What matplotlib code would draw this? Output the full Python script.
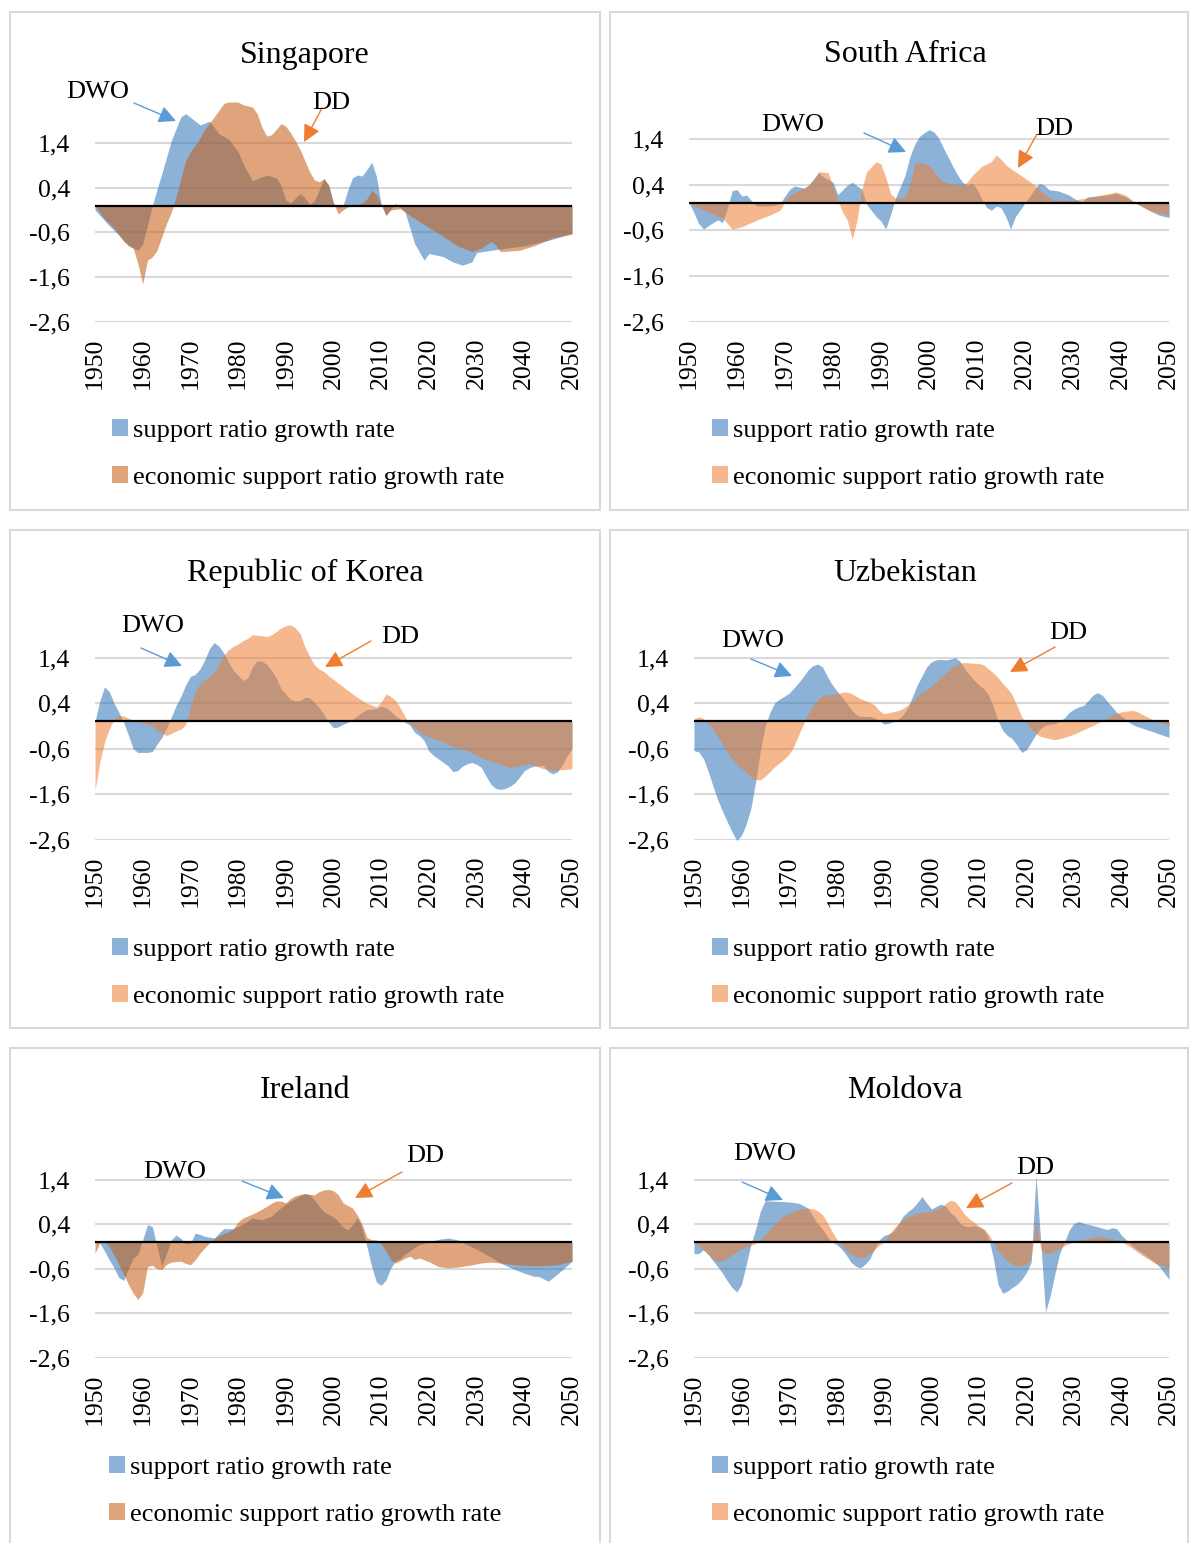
import numpy as np
import matplotlib.pyplot as plt
from matplotlib.patches import Patch, Rectangle

plt.rcParams['font.family'] = ['Liberation Serif', 'DejaVu Serif']

W, H = 1189, 1543

# ---- data (year, growth rate) ----
sg_sr_years = [1950, 1953, 1955, 1957, 1959, 1960, 1961, 1962, 1964, 1966, 1968, 1969, 1970, 1972, 1974,
               1976, 1978, 1980, 1981, 1983, 1984, 1986, 1988, 1989, 1990, 1991, 1993, 1994, 1995, 1996,
               1998, 1999, 2000, 2001, 2002, 2003, 2004, 2005, 2006, 2007, 2008, 2009, 2010, 2011, 2013,
               2015, 2017, 2019, 2020, 2023, 2025, 2027, 2029, 2030, 2035, 2040, 2045, 2050]
sg_sr = [-0.1, -0.45, -0.66, -0.9, -1.0, -0.85, -0.45, 0.0, 0.71, 1.45, 1.98, 2.05, 1.97, 1.8, 1.88,
         1.6, 1.48, 1.2, 0.94, 0.55, 0.6, 0.68, 0.62, 0.45, 0.12, 0.06, 0.27, 0.17, 0.03, 0.1,
         0.6, 0.45, 0.05, -0.05, 0.0, 0.35, 0.62, 0.68, 0.66, 0.8, 0.97, 0.65, 0.02, -0.22, 0.05,
         -0.14, -0.85, -1.22, -1.07, -1.14, -1.26, -1.33, -1.26, -1.05, -0.97, -0.9, -0.78, -0.62]
sg_esr_years = [1950, 1952, 1954, 1956, 1958, 1959, 1960, 1961, 1962, 1963, 1964, 1965, 1966, 1967, 1968,
                1969, 1970, 1972, 1973, 1975, 1976, 1977, 1978, 1980, 1981, 1983, 1984, 1985, 1986, 1987,
                1988, 1989, 1990, 1991, 1992, 1993, 1994, 1995, 1996, 1997, 1998, 1999, 2000, 2001, 2002,
                2003, 2004, 2006, 2007, 2008, 2009, 2010, 2011, 2012, 2014, 2015, 2018, 2022, 2026, 2029,
                2031, 2033, 2034, 2035, 2039, 2042, 2046, 2050]
sg_esr = [0.0, -0.3, -0.5, -0.8, -0.95, -1.3, -1.75, -1.22, -1.15, -1.0, -0.7, -0.4, -0.15, 0.2, 0.6,
          1.0, 1.2, 1.5, 1.7, 1.98, 2.13, 2.28, 2.31, 2.31, 2.25, 2.2, 2.05, 1.75, 1.55, 1.58,
          1.7, 1.83, 1.77, 1.62, 1.45, 1.25, 1.0, 0.75, 0.57, 0.53, 0.6, 0.45, 0.05, -0.19, -0.1,
          -0.03, 0.0, 0.05, 0.15, 0.34, 0.25, 0.02, -0.22, -0.1, -0.07, -0.15, -0.36, -0.62, -0.9, -1.03,
          -0.95, -0.8, -0.88, -1.03, -1.0, -0.9, -0.72, -0.64]

za_sr_years = [1950, 1951, 1952, 1953, 1954, 1955, 1956, 1957, 1958, 1959, 1960, 1961, 1962, 1963, 1964,
               1966, 1968, 1969, 1970, 1971, 1972, 1974, 1975, 1977, 1978, 1980, 1981, 1983, 1984, 1986,
               1987, 1989, 1990, 1991, 1992, 1993, 1994, 1995, 1996, 1997, 1998, 1999, 2000, 2001, 2002,
               2003, 2004, 2005, 2006, 2007, 2008, 2009, 2010, 2011, 2012, 2013, 2014, 2015, 2016, 2017,
               2018, 2019, 2020, 2021, 2022, 2023, 2024, 2025, 2027, 2029, 2031, 2032, 2033, 2037, 2039,
               2041, 2043, 2046, 2048, 2050]
za_sr = [0.0, -0.2, -0.45, -0.57, -0.5, -0.43, -0.37, -0.43, -0.12, 0.27, 0.29, 0.15, 0.17, 0.05, -0.06,
         -0.07, -0.05, -0.01, 0.15, 0.3, 0.37, 0.32, 0.4, 0.66, 0.57, 0.45, 0.18, 0.39, 0.45, 0.3,
         -0.03, -0.3, -0.4, -0.57, -0.25, 0.1, 0.35, 0.6, 1.0, 1.28, 1.45, 1.53, 1.6, 1.55, 1.42,
         1.2, 1.0, 0.79, 0.6, 0.45, 0.39, 0.43, 0.3, 0.08, -0.1, -0.16, -0.07, -0.1, -0.3, -0.57,
         -0.3, -0.15, 0.0, 0.15, 0.3, 0.43, 0.39, 0.29, 0.26, 0.18, 0.05, 0.03, 0.13, 0.17, 0.21,
         0.13, 0.0, -0.17, -0.27, -0.32]
za_esr_years = [1950, 1953, 1957, 1958, 1959, 1961, 1964, 1967, 1969, 1970, 1971, 1973, 1975, 1976, 1977,
                1979, 1980, 1981, 1982, 1983, 1984, 1985, 1986, 1987, 1988, 1989, 1990, 1991, 1992, 1993,
                1995, 1996, 1997, 1998, 2000, 2001, 2002, 2003, 2005, 2007, 2008, 2009, 2011, 2013, 2014,
                2015, 2016, 2017, 2018, 2020, 2022, 2024, 2026, 2030, 2034, 2039, 2041, 2043, 2046, 2050]
za_esr = [0.0, -0.16, -0.33, -0.45, -0.57, -0.52, -0.38, -0.26, -0.16, 0.05, 0.17, 0.28, 0.38, 0.52, 0.68,
          0.66, 0.35, 0.05, -0.2, -0.38, -0.79, -0.38, 0.3, 0.68, 0.79, 0.9, 0.85, 0.55, 0.2, 0.1,
          0.12, 0.4, 0.85, 0.88, 0.83, 0.68, 0.55, 0.47, 0.4, 0.38, 0.46, 0.6, 0.8, 0.9, 1.05,
          0.95, 0.83, 0.75, 0.68, 0.54, 0.39, 0.2, 0.06, 0.06, 0.13, 0.24, 0.17, 0.0, -0.17, -0.27]

kr_sr_years = [1950, 1951, 1952, 1953, 1954, 1955, 1956, 1957, 1958, 1959, 1961, 1962, 1963, 1964, 1965,
               1966, 1967, 1968, 1969, 1970, 1971, 1972, 1973, 1974, 1975, 1976, 1977, 1978, 1979, 1980,
               1981, 1982, 1983, 1984, 1985, 1986, 1987, 1988, 1989, 1990, 1991, 1992, 1993, 1994, 1995,
               1996, 1997, 1998, 1999, 2000, 2001, 2002, 2003, 2004, 2005, 2006, 2007, 2009, 2010, 2011,
               2012, 2013, 2014, 2015, 2016, 2017, 2018, 2019, 2020, 2021, 2022, 2023, 2024, 2025, 2026,
               2027, 2028, 2029, 2030, 2031, 2032, 2033, 2034, 2035, 2036, 2037, 2038, 2039, 2040, 2041,
               2042, 2044, 2045, 2046, 2047, 2048, 2049, 2050]
kr_sr = [0.0, 0.45, 0.76, 0.65, 0.4, 0.2, -0.02, -0.3, -0.6, -0.68, -0.68, -0.66, -0.5, -0.35, -0.15,
         0.1, 0.35, 0.55, 0.8, 0.99, 1.03, 1.15, 1.35, 1.6, 1.73, 1.65, 1.5, 1.3, 1.12, 1.01,
         0.9, 0.95, 1.2, 1.33, 1.32, 1.25, 1.12, 0.95, 0.72, 0.6, 0.48, 0.45, 0.46, 0.53, 0.52,
         0.42, 0.3, 0.15, -0.02, -0.14, -0.12, -0.06, -0.02, 0.05, 0.12, 0.2, 0.26, 0.28, 0.33, 0.3,
         0.22, 0.12, 0.05, -0.02, -0.08, -0.24, -0.31, -0.42, -0.65, -0.75, -0.82, -0.9, -0.97, -1.1, -1.08,
         -0.98, -0.93, -0.9, -0.94, -1.01, -1.2, -1.38, -1.47, -1.49, -1.47, -1.42, -1.35, -1.22, -1.08, -1.02,
         -0.98, -0.97, -1.1, -1.15, -1.1, -0.95, -0.75, -0.6]
kr_esr_years = [1950, 1951, 1952, 1953, 1954, 1955, 1956, 1957, 1959, 1962, 1963, 1965, 1966, 1967, 1968,
                1969, 1970, 1971, 1972, 1973, 1974, 1975, 1976, 1977, 1978, 1979, 1980, 1981, 1982, 1983,
                1985, 1986, 1987, 1988, 1989, 1990, 1991, 1992, 1993, 1994, 1995, 1996, 1997, 1998, 1999,
                2000, 2001, 2002, 2003, 2004, 2005, 2006, 2007, 2008, 2009, 2010, 2011, 2012, 2013, 2014,
                2015, 2016, 2017, 2018, 2019, 2021, 2023, 2025, 2028, 2030, 2032, 2035, 2037, 2039, 2041,
                2042, 2044, 2046, 2050]
kr_esr = [-1.52, -0.9, -0.45, -0.16, 0.05, 0.13, 0.12, 0.07, -0.01, -0.09, -0.2, -0.31, -0.26, -0.21, -0.17,
          -0.07, 0.32, 0.65, 0.83, 0.92, 0.98, 1.09, 1.27, 1.45, 1.57, 1.65, 1.7, 1.77, 1.82, 1.9,
          1.88, 1.86, 1.9, 1.97, 2.05, 2.1, 2.12, 2.05, 1.93, 1.64, 1.42, 1.24, 1.15, 1.09, 1.0,
          0.92, 0.84, 0.76, 0.68, 0.6, 0.53, 0.46, 0.4, 0.36, 0.32, 0.43, 0.6, 0.55, 0.46, 0.3,
          0.1, -0.05, -0.13, -0.22, -0.3, -0.38, -0.45, -0.55, -0.64, -0.74, -0.84, -0.94, -1.01, -0.97, -0.93,
          -0.96, -1.04, -1.07, -1.04]

uz_sr_years = [1950, 1951, 1952, 1953, 1954, 1955, 1956, 1957, 1958, 1959, 1960, 1961, 1962, 1963, 1964,
               1965, 1966, 1967, 1968, 1969, 1970, 1971, 1972, 1973, 1974, 1975, 1976, 1977, 1978, 1979,
               1980, 1981, 1982, 1983, 1984, 1985, 1987, 1988, 1989, 1990, 1991, 1992, 1993, 1994, 1995,
               1996, 1997, 1998, 1999, 2000, 2001, 2002, 2003, 2004, 2005, 2006, 2007, 2008, 2009, 2010,
               2011, 2012, 2013, 2014, 2015, 2016, 2017, 2018, 2019, 2020, 2021, 2022, 2023, 2024, 2026,
               2027, 2028, 2029, 2030, 2031, 2032, 2033, 2034, 2035, 2036, 2037, 2038, 2039, 2040, 2041,
               2042, 2043, 2045, 2047, 2050]
uz_sr = [-0.64, -0.67, -0.82, -1.1, -1.42, -1.72, -1.97, -2.2, -2.42, -2.61, -2.5, -2.25, -1.9, -1.3, -0.62,
         -0.1, 0.2, 0.41, 0.49, 0.55, 0.62, 0.73, 0.85, 0.98, 1.13, 1.22, 1.26, 1.2, 1.0, 0.82,
         0.68, 0.55, 0.42, 0.27, 0.16, 0.11, 0.11, 0.08, 0.02, -0.06, -0.04, 0.0, 0.05, 0.15, 0.3,
         0.55, 0.8, 1.0, 1.2, 1.31, 1.35, 1.36, 1.35, 1.37, 1.4, 1.32, 1.15, 1.02, 0.9, 0.8,
         0.72, 0.58, 0.33, 0.02, -0.2, -0.31, -0.38, -0.52, -0.68, -0.62, -0.45, -0.28, -0.15, -0.08, -0.05,
         0.0, 0.08, 0.2, 0.27, 0.32, 0.35, 0.46, 0.58, 0.63, 0.57, 0.44, 0.32, 0.2, 0.11, 0.03,
         -0.05, -0.1, -0.17, -0.24, -0.35]
uz_esr_years = [1950, 1951, 1952, 1953, 1954, 1955, 1956, 1957, 1958, 1959, 1960, 1961, 1962, 1963, 1964,
                1965, 1966, 1967, 1968, 1969, 1970, 1971, 1972, 1973, 1974, 1975, 1976, 1977, 1979, 1980,
                1982, 1983, 1984, 1985, 1986, 1987, 1988, 1989, 1990, 1991, 1993, 1994, 1995, 1996, 1997,
                1998, 1999, 2000, 2001, 2002, 2003, 2004, 2005, 2006, 2007, 2010, 2011, 2012, 2013, 2014,
                2015, 2016, 2017, 2018, 2019, 2020, 2021, 2022, 2023, 2025, 2026, 2028, 2030, 2032, 2034,
                2036, 2037, 2039, 2040, 2042, 2043, 2045, 2047, 2050]
uz_esr = [0.06, 0.1, 0.06, -0.05, -0.16, -0.33, -0.5, -0.67, -0.82, -0.94, -1.03, -1.12, -1.22, -1.28, -1.28,
          -1.2, -1.1, -0.99, -0.91, -0.82, -0.72, -0.55, -0.3, -0.07, 0.17, 0.33, 0.47, 0.57, 0.59, 0.61,
          0.65, 0.62, 0.56, 0.5, 0.46, 0.42, 0.36, 0.24, 0.17, 0.19, 0.24, 0.29, 0.36, 0.44, 0.55,
          0.64, 0.7, 0.78, 0.87, 0.97, 1.06, 1.16, 1.24, 1.28, 1.29, 1.27, 1.24, 1.15, 1.07, 0.96,
          0.83, 0.72, 0.58, 0.35, 0.1, -0.03, -0.17, -0.27, -0.33, -0.38, -0.4, -0.35, -0.28, -0.18, -0.09,
          0.02, 0.09, 0.18, 0.21, 0.24, 0.23, 0.12, 0.02, -0.09]

ie_sr_years = [1950, 1951, 1952, 1953, 1954, 1955, 1956, 1957, 1958, 1959, 1960, 1961, 1962, 1963, 1964,
               1965, 1966, 1967, 1968, 1969, 1970, 1971, 1972, 1973, 1975, 1976, 1977, 1978, 1979, 1980,
               1981, 1982, 1983, 1985, 1987, 1988, 1989, 1990, 1992, 1994, 1995, 1996, 1997, 1998, 1999,
               2000, 2001, 2002, 2003, 2004, 2005, 2006, 2007, 2008, 2009, 2010, 2011, 2012, 2013, 2014,
               2015, 2016, 2017, 2018, 2020, 2022, 2024, 2026, 2028, 2030, 2033, 2035, 2037, 2040, 2042,
               2043, 2045, 2046, 2048, 2050]
ie_sr = [-0.02, -0.02, -0.2, -0.4, -0.58, -0.8, -0.86, -0.6, -0.36, -0.27, 0.05, 0.39, 0.35, -0.1, -0.54,
         -0.25, 0.05, 0.16, 0.08, -0.04, -0.03, 0.2, 0.17, 0.13, 0.09, 0.2, 0.3, 0.3, 0.3, 0.35,
         0.4, 0.47, 0.54, 0.5, 0.58, 0.68, 0.77, 0.85, 0.98, 1.09, 1.06, 0.94, 0.8, 0.68, 0.62,
         0.56, 0.46, 0.33, 0.28, 0.39, 0.54, 0.3, -0.1, -0.55, -0.9, -0.97, -0.85, -0.58, -0.43, -0.37,
         -0.27, -0.2, -0.12, -0.06, 0.0, 0.06, 0.09, 0.05, -0.06, -0.16, -0.34, -0.47, -0.57, -0.7, -0.77,
         -0.77, -0.88, -0.8, -0.62, -0.43]
ie_esr_years = [1950, 1951, 1952, 1953, 1954, 1955, 1956, 1957, 1958, 1959, 1960, 1961, 1962, 1963, 1964,
                1965, 1966, 1968, 1969, 1970, 1971, 1972, 1973, 1974, 1975, 1976, 1977, 1978, 1979, 1980,
                1981, 1982, 1983, 1984, 1985, 1986, 1987, 1988, 1989, 1990, 1991, 1992, 1993, 1994, 1996,
                1997, 1998, 1999, 2000, 2001, 2002, 2003, 2004, 2005, 2006, 2007, 2008, 2009, 2010, 2011,
                2012, 2013, 2014, 2015, 2016, 2017, 2018, 2020, 2022, 2024, 2026, 2029, 2031, 2033, 2036,
                2038, 2041, 2044, 2047, 2050]
ie_esr = [-0.25, -0.02, 0.01, -0.1, -0.3, -0.5, -0.72, -0.95, -1.15, -1.29, -1.14, -0.55, -0.52, -0.6, -0.62,
          -0.5, -0.45, -0.43, -0.48, -0.51, -0.4, -0.25, -0.13, -0.02, 0.08, 0.14, 0.19, 0.23, 0.3, 0.45,
          0.54, 0.58, 0.63, 0.68, 0.74, 0.8, 0.87, 0.92, 0.92, 0.88, 0.98, 1.04, 1.07, 1.08, 1.06,
          1.13, 1.17, 1.18, 1.15, 1.06, 0.88, 0.82, 0.76, 0.6, 0.4, 0.1, 0.05, 0.05, -0.05, -0.2,
          -0.4, -0.47, -0.42, -0.36, -0.32, -0.39, -0.36, -0.44, -0.55, -0.58, -0.56, -0.51, -0.47, -0.45, -0.48,
          -0.51, -0.53, -0.53, -0.51, -0.43]

md_sr_years = [1950, 1951, 1952, 1953, 1954, 1955, 1956, 1957, 1958, 1959, 1960, 1961, 1962, 1963, 1964,
               1965, 1966, 1968, 1970, 1972, 1973, 1974, 1975, 1976, 1977, 1978, 1979, 1980, 1981, 1982,
               1983, 1984, 1985, 1986, 1987, 1988, 1989, 1990, 1991, 1992, 1993, 1994, 1995, 1996, 1997,
               1998, 1999, 2000, 2001, 2002, 2003, 2004, 2005, 2006, 2007, 2008, 2009, 2010, 2011, 2012,
               2013, 2014, 2015, 2016, 2017, 2018, 2019, 2020, 2021, 2022, 2023, 2024, 2025, 2026, 2027,
               2028, 2029, 2030, 2031, 2032, 2034, 2036, 2037, 2038, 2039, 2040, 2041, 2042, 2043, 2044,
               2045, 2046, 2048, 2050]
md_sr = [-0.26, -0.26, -0.17, -0.28, -0.42, -0.55, -0.7, -0.87, -1.02, -1.12, -0.95, -0.5, -0.05, 0.3, 0.7,
         0.93, 0.92, 0.91, 0.9, 0.87, 0.82, 0.76, 0.58, 0.42, 0.3, 0.13, 0.0, -0.05, -0.15, -0.28,
         -0.45, -0.54, -0.58, -0.5, -0.38, -0.15, 0.05, 0.15, 0.18, 0.24, 0.4, 0.58, 0.68, 0.76, 0.88,
         1.02, 0.87, 0.74, 0.8, 0.85, 0.8, 0.66, 0.57, 0.42, 0.36, 0.35, 0.37, 0.33, 0.28, 0.1,
         -0.35, -0.95, -1.15, -1.1, -1.02, -0.95, -0.84, -0.68, -0.45, 1.5, 0.0, -1.57, -1.2, -0.7, -0.25,
         0.0, 0.27, 0.42, 0.46, 0.42, 0.37, 0.31, 0.28, 0.32, 0.3, 0.15, 0.05, -0.06, -0.15, -0.22,
         -0.3, -0.37, -0.55, -0.84]
md_esr_years = [1950, 1951, 1952, 1953, 1954, 1955, 1956, 1957, 1958, 1959, 1960, 1961, 1962, 1963, 1964,
                1965, 1966, 1967, 1968, 1969, 1970, 1971, 1972, 1973, 1974, 1975, 1976, 1977, 1978, 1979,
                1980, 1981, 1982, 1983, 1984, 1985, 1986, 1987, 1988, 1989, 1990, 1991, 1992, 1993, 1994,
                1995, 1996, 1997, 1999, 2001, 2002, 2003, 2004, 2005, 2006, 2007, 2008, 2009, 2010, 2011,
                2012, 2013, 2014, 2015, 2016, 2017, 2018, 2019, 2020, 2021, 2022, 2023, 2024, 2025, 2027,
                2028, 2030, 2032, 2035, 2037, 2039, 2040, 2042, 2044, 2045, 2047, 2050]
md_esr = [-0.02, -0.08, -0.18, -0.28, -0.38, -0.43, -0.42, -0.37, -0.29, -0.22, -0.15, -0.11, -0.07, -0.03, 0.05,
          0.17, 0.29, 0.41, 0.52, 0.59, 0.64, 0.69, 0.73, 0.75, 0.76, 0.75, 0.7, 0.62, 0.45, 0.25,
          0.07, -0.06, -0.18, -0.27, -0.33, -0.36, -0.33, -0.26, -0.17, -0.07, 0.0, 0.16, 0.3, 0.41, 0.5,
          0.57, 0.61, 0.66, 0.68, 0.72, 0.77, 0.87, 0.94, 0.9, 0.77, 0.62, 0.52, 0.44, 0.36, 0.3,
          0.18, 0.0, -0.2, -0.32, -0.42, -0.5, -0.54, -0.53, -0.5, -0.35, 0.5, -0.15, -0.26, -0.25, -0.15,
          -0.08, 0.01, 0.06, 0.13, 0.09, 0.04, 0.01, -0.12, -0.27, -0.34, -0.47, -0.58]

titles = ['Singapore', 'South Africa', 'Republic of Korea', 'Uzbekistan', 'Ireland', 'Moldova']
series = [(sg_sr_years, sg_sr, sg_esr_years, sg_esr),
          (za_sr_years, za_sr, za_esr_years, za_esr),
          (kr_sr_years, kr_sr, kr_esr_years, kr_esr),
          (uz_sr_years, uz_sr, uz_esr_years, uz_esr),
          (ie_sr_years, ie_sr, ie_esr_years, ie_esr),
          (md_sr_years, md_sr, md_esr_years, md_esr)]
legend_labels = ['support ratio growth rate', 'economic support ratio growth rate']
ytick_vals = [-2.6, -1.6, -0.6, 0.4, 1.4]
ytick_labels = ['-2,6', '-1,6', '-0,6', '0,4', '1,4']
xtick_vals = list(range(1950, 2051, 10))

# ---- layout (pixels, top-left origin) ----
frames = [(10, 12, 600, 510), (610, 12, 1188, 510),
          (10, 530, 600, 1028), (610, 530, 1188, 1028),
          (10, 1048, 600, 1560), (610, 1048, 1188, 1560)]
axes_px = [(95, 98, 572, 322), (689, 93, 1169, 322),
           (95, 612, 572, 840), (694, 612, 1169, 840),
           (95, 1135, 572, 1358), (694, 1135, 1169, 1358)]
title_px = [(305, 55), (905, 55), (305, 573), (905, 573), (305, 1091), (905, 1091)]
legend_px = [(112, 419), (712, 419), (112, 938), (712, 938), (109, 1456), (712, 1456)]
dwo_px = [((98, 92), (134, 103), (176, 121)),
          ((793, 125), (864, 133), (906, 152)),
          ((153, 626), (141, 648), (182, 666)),
          ((753, 641), (751, 659), (792, 676)),
          ((175, 1172), (242, 1181), (284, 1198)),
          ((765, 1154), (742, 1182), (783, 1200))]
dd_px = [((331, 103), (322, 108), (304, 142)),
         ((1054, 129), (1037, 134), (1018, 168)),
         ((400, 637), (371, 641), (325, 667)),
         ((1068, 633), (1055, 647), (1010, 672)),
         ((425, 1156), (402, 1172), (355, 1198)),
         ((1035, 1168), (1012, 1183), (966, 1208))]
dark_orange = [True, False, False, False, True, False]

blue = '#2E75B6'
orange_light = '#ED7D31'
orange_dark = '#C55A11'
alpha = 0.55
grid_col = '#d9d9d9'


def ff(x, y):
    return (x / W, 1 - y / H)


fig = plt.figure(figsize=(W / 100, H / 100), dpi=100)

for i in range(6):
    x0, y0, x1, y1 = frames[i]
    fig.patches.append(Rectangle(ff(x0, y1), (x1 - x0) / W, (y1 - y0) / H,
                                 transform=fig.transFigure, fill=False,
                                 edgecolor=grid_col, lw=1.5))

    ax0, ay0, ax1, ay1 = axes_px[i]
    ax = fig.add_axes([ax0 / W, 1 - ay1 / H, (ax1 - ax0) / W, (ay1 - ay0) / H])
    sy, sv, ey, ev = series[i]
    oc = orange_dark if dark_orange[i] else orange_light
    ax.fill_between(sy, sv, 0, color=blue, alpha=alpha, lw=0, zorder=2)
    ax.fill_between(ey, ev, 0, color=oc, alpha=alpha, lw=0, zorder=3)
    ax.axhline(0, color='black', lw=1.6, zorder=4)

    ax.set_xlim(1950, 2050)
    ax.set_ylim(-2.6, 2.4)
    ax.set_yticks(ytick_vals)
    ax.set_yticklabels(ytick_labels)
    ax.set_xticks(xtick_vals)
    ax.set_xticklabels([str(v) for v in xtick_vals], rotation=90)
    ax.tick_params(axis='y', length=0, pad=18, labelsize=18.5)
    ax.tick_params(axis='x', length=0, pad=11, labelsize=18.5)
    ax.yaxis.grid(True, color=grid_col, lw=1.5, zorder=0)
    ax.set_axisbelow(True)
    for s in ax.spines.values():
        s.set_visible(False)
    ax.patch.set_alpha(0)

    tx, ty = title_px[i]
    fig.text(*ff(tx, ty), titles[i], ha='center', va='center', fontsize=23)

    handles = [Patch(facecolor=blue, alpha=alpha, lw=0), Patch(facecolor=oc, alpha=alpha, lw=0)]
    lx, ly = legend_px[i]
    fig.legend(handles, legend_labels, loc='upper left', bbox_to_anchor=ff(lx, ly),
               bbox_transform=fig.transFigure, frameon=False, fontsize=19,
               handlelength=0.6, handleheight=0.6, handletextpad=0.2,
               labelspacing=0.92, borderpad=0, borderaxespad=0)

    for (txt, (ta, tb), (sa, sb), (ea, eb)), col in ((('DWO',) + dwo_px[i], '#5B9BD5'),
                                                    (('DD',) + dd_px[i], '#ED7D31')):
        fig.text(*ff(ta, tb), txt, ha='center', va='center', fontsize=19)
        fig.add_artist(plt.Annotation('', xy=ff(ea, eb), xytext=ff(sa, sb),
                                      xycoords='figure fraction', textcoords='figure fraction',
                                      arrowprops=dict(arrowstyle='-|>', color=col, lw=1.0,
                                                      mutation_scale=26, shrinkA=0, shrinkB=0)))

fig.savefig('out.png', dpi=100)
